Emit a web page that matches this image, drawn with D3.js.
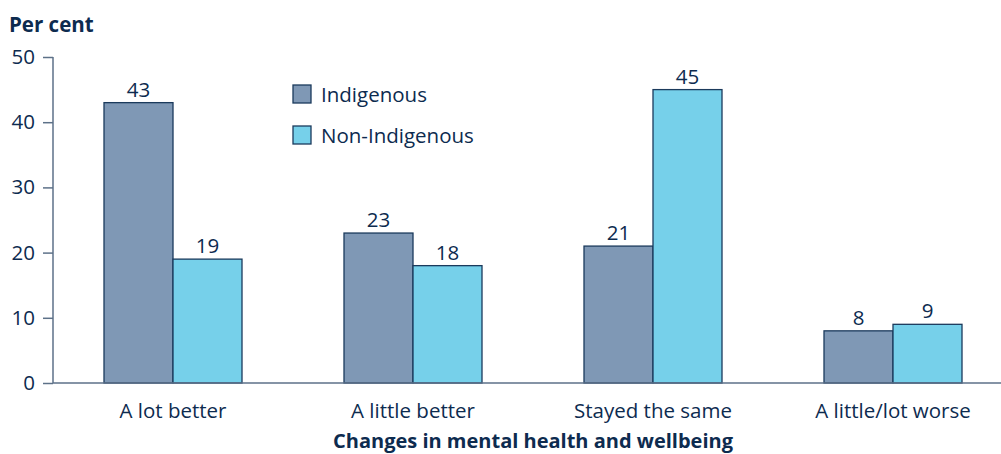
<!DOCTYPE html>
<html><head><meta charset="utf-8">
<script src="https://cdn.jsdelivr.net/npm/d3@7"></script>
<style>
body{margin:0;background:#fff;}
text{font-family:"Open Sans",sans-serif;fill:#0d2b4f;}
</style></head>
<body><svg id="c" width="1001" height="454"></svg>
<script>
const categories = ["A lot better","A little better","Stayed the same","A little/lot worse"];
const indigenous = [43,23,21,8];
const nonIndigenous = [19,18,45,9];
const seriesNames = ["Indigenous","Non-Indigenous"];
const yTicks = [0,10,20,30,40,50];

const colors = ["#7f98b5","#76d0ea"];
const fs = "20.5px";
const svg = d3.select("#c");
const x0 = d3.scaleBand().domain(categories).range([53,1013]).paddingInner(0.425).paddingOuter(0.2125);
const x1 = d3.scaleBand().domain(seriesNames).range([0,x0.bandwidth()]);
const y = d3.scaleLinear().domain([0,50]).range([383,57]);
const axisColor = "#5d7188";

// y axis
const ya = svg.append("g").attr("transform","translate(53,0)")
  .call(d3.axisLeft(y).tickValues(yTicks).tickSize(10).tickPadding(8));
ya.select(".domain").attr("stroke",axisColor).attr("stroke-width",1.5).attr("d","M0,57V383");
ya.selectAll(".tick line").attr("stroke",axisColor).attr("stroke-width",1.5);
ya.selectAll(".tick text").style("font-size",fs).attr("fill","#0d2b4f").style("font-family","'Open Sans',sans-serif");

// bars
const data = categories.map((c,i)=>({c, vals:[indigenous[i],nonIndigenous[i]]}));
const g = svg.append("g");
data.forEach(d=>{
  d.vals.forEach((v,j)=>{
    const xx = x0(d.c)+x1(seriesNames[j]);
    g.append("rect").attr("x",xx).attr("y",y(v)).attr("width",x1.bandwidth()).attr("height",y(0)-y(v))
      .attr("fill",colors[j]).attr("stroke","#1b3a5c").attr("stroke-width",1.3);
    g.append("text").attr("x",xx+x1.bandwidth()/2).attr("y",y(v)-6).attr("text-anchor","middle")
      .style("font-size",fs).text(v);
  });
});

// x axis line
svg.append("line").attr("x1",53).attr("x2",1001).attr("y1",383).attr("y2",383)
  .attr("stroke",axisColor).attr("stroke-width",1.5);
categories.forEach(c=>{
  svg.append("text").attr("x",x0(c)+x0.bandwidth()/2).attr("y",418).attr("text-anchor","middle")
    .style("font-size",fs).text(c);
});

// titles
svg.append("text").attr("x",9).attr("y",32).style("font-size","20.5px").style("font-weight","bold").text("Per cent");
svg.append("text").attr("x",533).attr("y",448).attr("text-anchor","middle").style("font-size","20px").style("font-weight","bold").text("Changes in mental health and wellbeing");

// legend
seriesNames.forEach((s,i)=>{
  const ly = 85 + i*41;
  svg.append("rect").attr("x",293).attr("y",ly).attr("width",18).attr("height",18)
    .attr("fill",colors[i]).attr("stroke","#1b3a5c").attr("stroke-width",1.3);
  svg.append("text").attr("x",321).attr("y",ly+17).style("font-size",fs).text(s);
});
</script></body></html>
